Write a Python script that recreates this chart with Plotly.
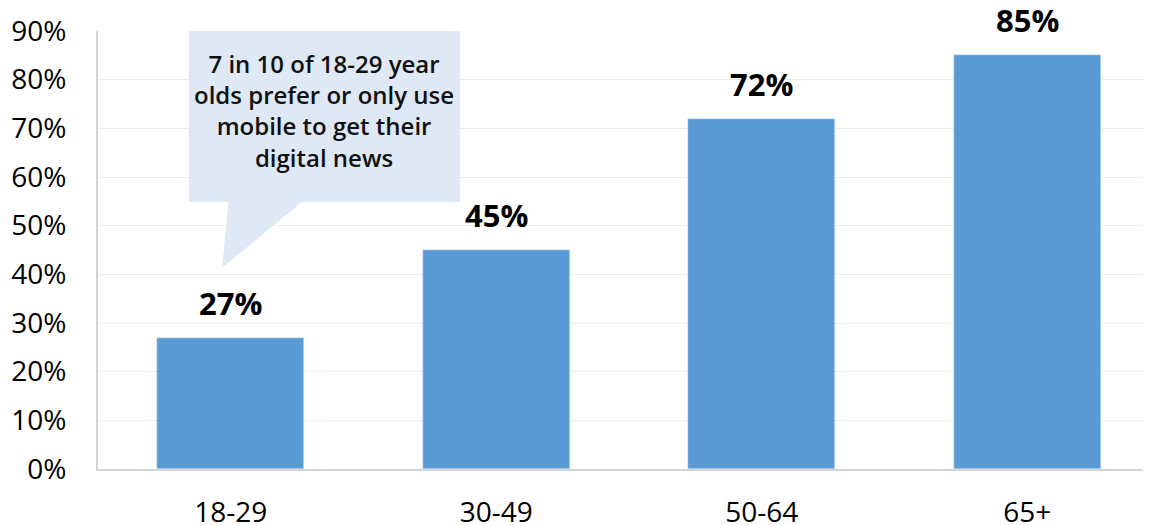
import plotly.graph_objects as go

categories = ["18-29", "30-49", "50-64", "65+"]
values = [0.27, 0.45, 0.72, 0.85]
value_labels = ["27%", "45%", "72%", "85%"]
tick_vals = [0, 0.1, 0.2, 0.3, 0.4, 0.5, 0.6, 0.7, 0.8, 0.9]
tick_text = ["0%", "10%", "20%", "30%", "40%", "50%", "60%", "70%", "80%", "90%"]
callout_text = "7 in 10 of 18-29 year<br>olds prefer or only use<br>mobile to get their<br>digital news"

FONT = "Open Sans"
BAR = "#5B9BD5"
CALL = "#DEE9F5"

fig = go.Figure()
fig.add_trace(go.Bar(
    x=list(range(len(categories))), y=values, marker_color=BAR, width=0.554,
    hoverinfo="skip",
))

for i, (v, t) in enumerate(zip(values, value_labels)):
    fig.add_annotation(x=i, y=v, text=t, showarrow=False, yanchor="bottom", yshift=12,
                       font=dict(family=FONT, size=31, color="#000", weight=700))

# callout box with pointer
x0, x1, y0, y1 = -0.157, 0.863, 0.5486, 0.9246
b0, b1, tx, ty = -0.0085, 0.268, -0.033, 0.413
path = (f"M {x0},{y1} L {x1},{y1} L {x1},{y0} L {b1},{y0} L {tx},{ty} "
        f"L {b0},{y0} L {x0},{y0} Z")
fig.add_shape(type="path", path=path, xref="x", yref="y", fillcolor=CALL,
              line=dict(width=0), layer="above")
fig.add_annotation(x=(x0 + x1) / 2, y=(y0 + y1) / 2, text=callout_text, showarrow=False,
                   xref="x", yref="y", align="center",
                   font=dict(family=FONT, size=24, color="#111", weight=600))

# page body has an 8px default margin, so the figure is sized to fit the window
fig.update_layout(
    width=1143, height=517,
    margin=dict(l=90, r=0, t=23, b=56),
    paper_bgcolor="white", plot_bgcolor="white",
    showlegend=False, bargap=0,
    font=dict(family=FONT, color="#000"),
)
fig.update_xaxes(
    range=[-0.5, 3.466], tickvals=list(range(len(categories))), ticktext=categories,
    tickfont=dict(size=28, color="#000"), showgrid=False, zeroline=False,
    showline=True, linecolor="#D4D4D4", linewidth=2, automargin=False,
    ticks="outside", ticklen=17, tickcolor="rgba(0,0,0,0)",
)
fig.update_yaxes(
    range=[0, 0.9], tickvals=tick_vals, ticktext=tick_text,
    tickfont=dict(size=28, color="#000"), showgrid=True, gridcolor="#EDEDED", gridwidth=1,
    zeroline=False, showline=True, linecolor="#D4D4D4", linewidth=2, automargin=False,
    ticks="outside", ticklen=24, tickcolor="rgba(0,0,0,0)",
)

fig.write_html("out.html")
